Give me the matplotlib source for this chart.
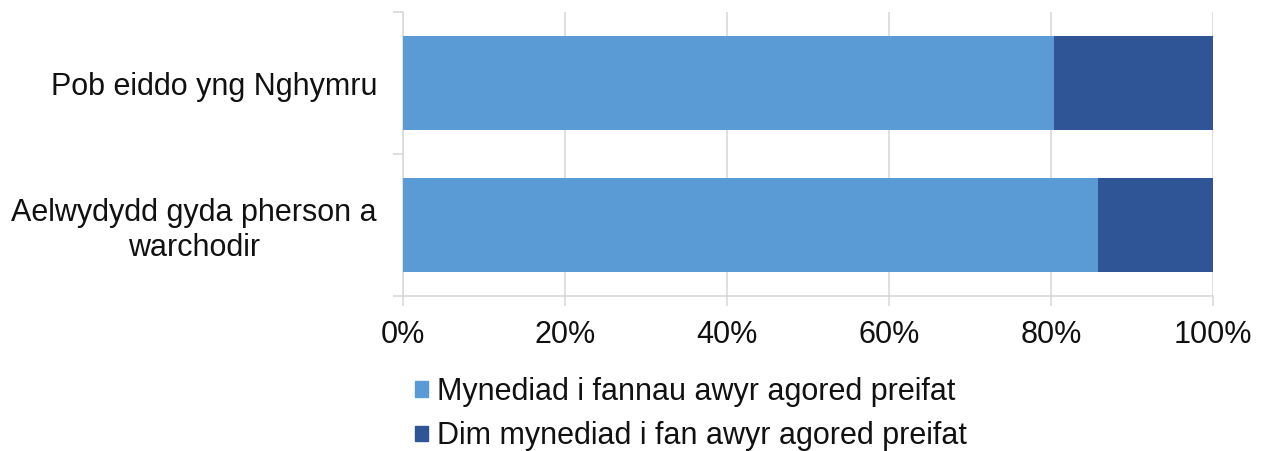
import matplotlib
matplotlib.use('Agg')
import matplotlib.pyplot as plt
from matplotlib.patches import Patch
from matplotlib.ticker import FixedLocator, PercentFormatter

categories = ['Pob eiddo yng Nghymru', 'Aelwydydd gyda pherson a\nwarchodir']
access = [80.4, 85.8]
no_access = [19.6, 14.2]
series_names = ['Mynediad i fannau awyr agored preifat',
                'Dim mynediad i fan awyr agored preifat']
x_ticks = [0, 20, 40, 60, 80, 100]

light = '#5B9BD5'
dark = '#2F5597'
grid_col = '#D9D9D9'
text_col = '#111111'

plt.rcParams['font.family'] = ['Liberation Sans', 'DejaVu Sans']
plt.rcParams['font.size'] = 22

fig = plt.figure(figsize=(12.63, 4.51), dpi=100)
ax = fig.add_axes([403 / 1263, 1 - 296 / 451, 810 / 1263, 284 / 451])

ypos = list(range(len(categories)))
ax.barh(ypos, access, height=0.66, color=light, zorder=3)
ax.barh(ypos, no_access, left=access, height=0.66, color=dark, zorder=3)

ax.set_xlim(0, 100)
ax.set_ylim(len(categories) - 0.5, -0.5)
ax.set_xticks(x_ticks)
ax.xaxis.set_major_formatter(PercentFormatter(decimals=0))
ax.grid(axis='x', color=grid_col, linewidth=1.2, zorder=0)

# category boundaries get tick marks, labels sit between them
ax.yaxis.set_major_locator(FixedLocator([-0.5, 0.5, 1.5]))
ax.yaxis.set_minor_locator(FixedLocator(ypos))
ax.set_yticklabels([], minor=False)
ax.set_yticklabels(categories, minor=True, ha='right', multialignment='center')
ax.tick_params(axis='y', which='major', length=7.2, color=grid_col, width=1.2)
ax.tick_params(axis='y', which='minor', length=0, pad=18.7, labelcolor=text_col)
ax.tick_params(axis='x', length=7.2, color=grid_col, width=1.2, pad=10,
               labelcolor=text_col)

for side in ['top', 'right']:
    ax.spines[side].set_visible(False)
for side in ['left', 'bottom']:
    ax.spines[side].set_color(grid_col)
    ax.spines[side].set_linewidth(1.2)

handles = [Patch(color=light), Patch(color=dark)]
fig.legend(handles, series_names, loc='upper left',
           bbox_to_anchor=(400 / 1263, 1 - 362 / 451), frameon=False,
           handlelength=0.42, handleheight=0.42, handletextpad=0.3,
           labelspacing=0.46, borderpad=0, labelcolor=text_col)

fig.savefig('out.png', dpi=100)
